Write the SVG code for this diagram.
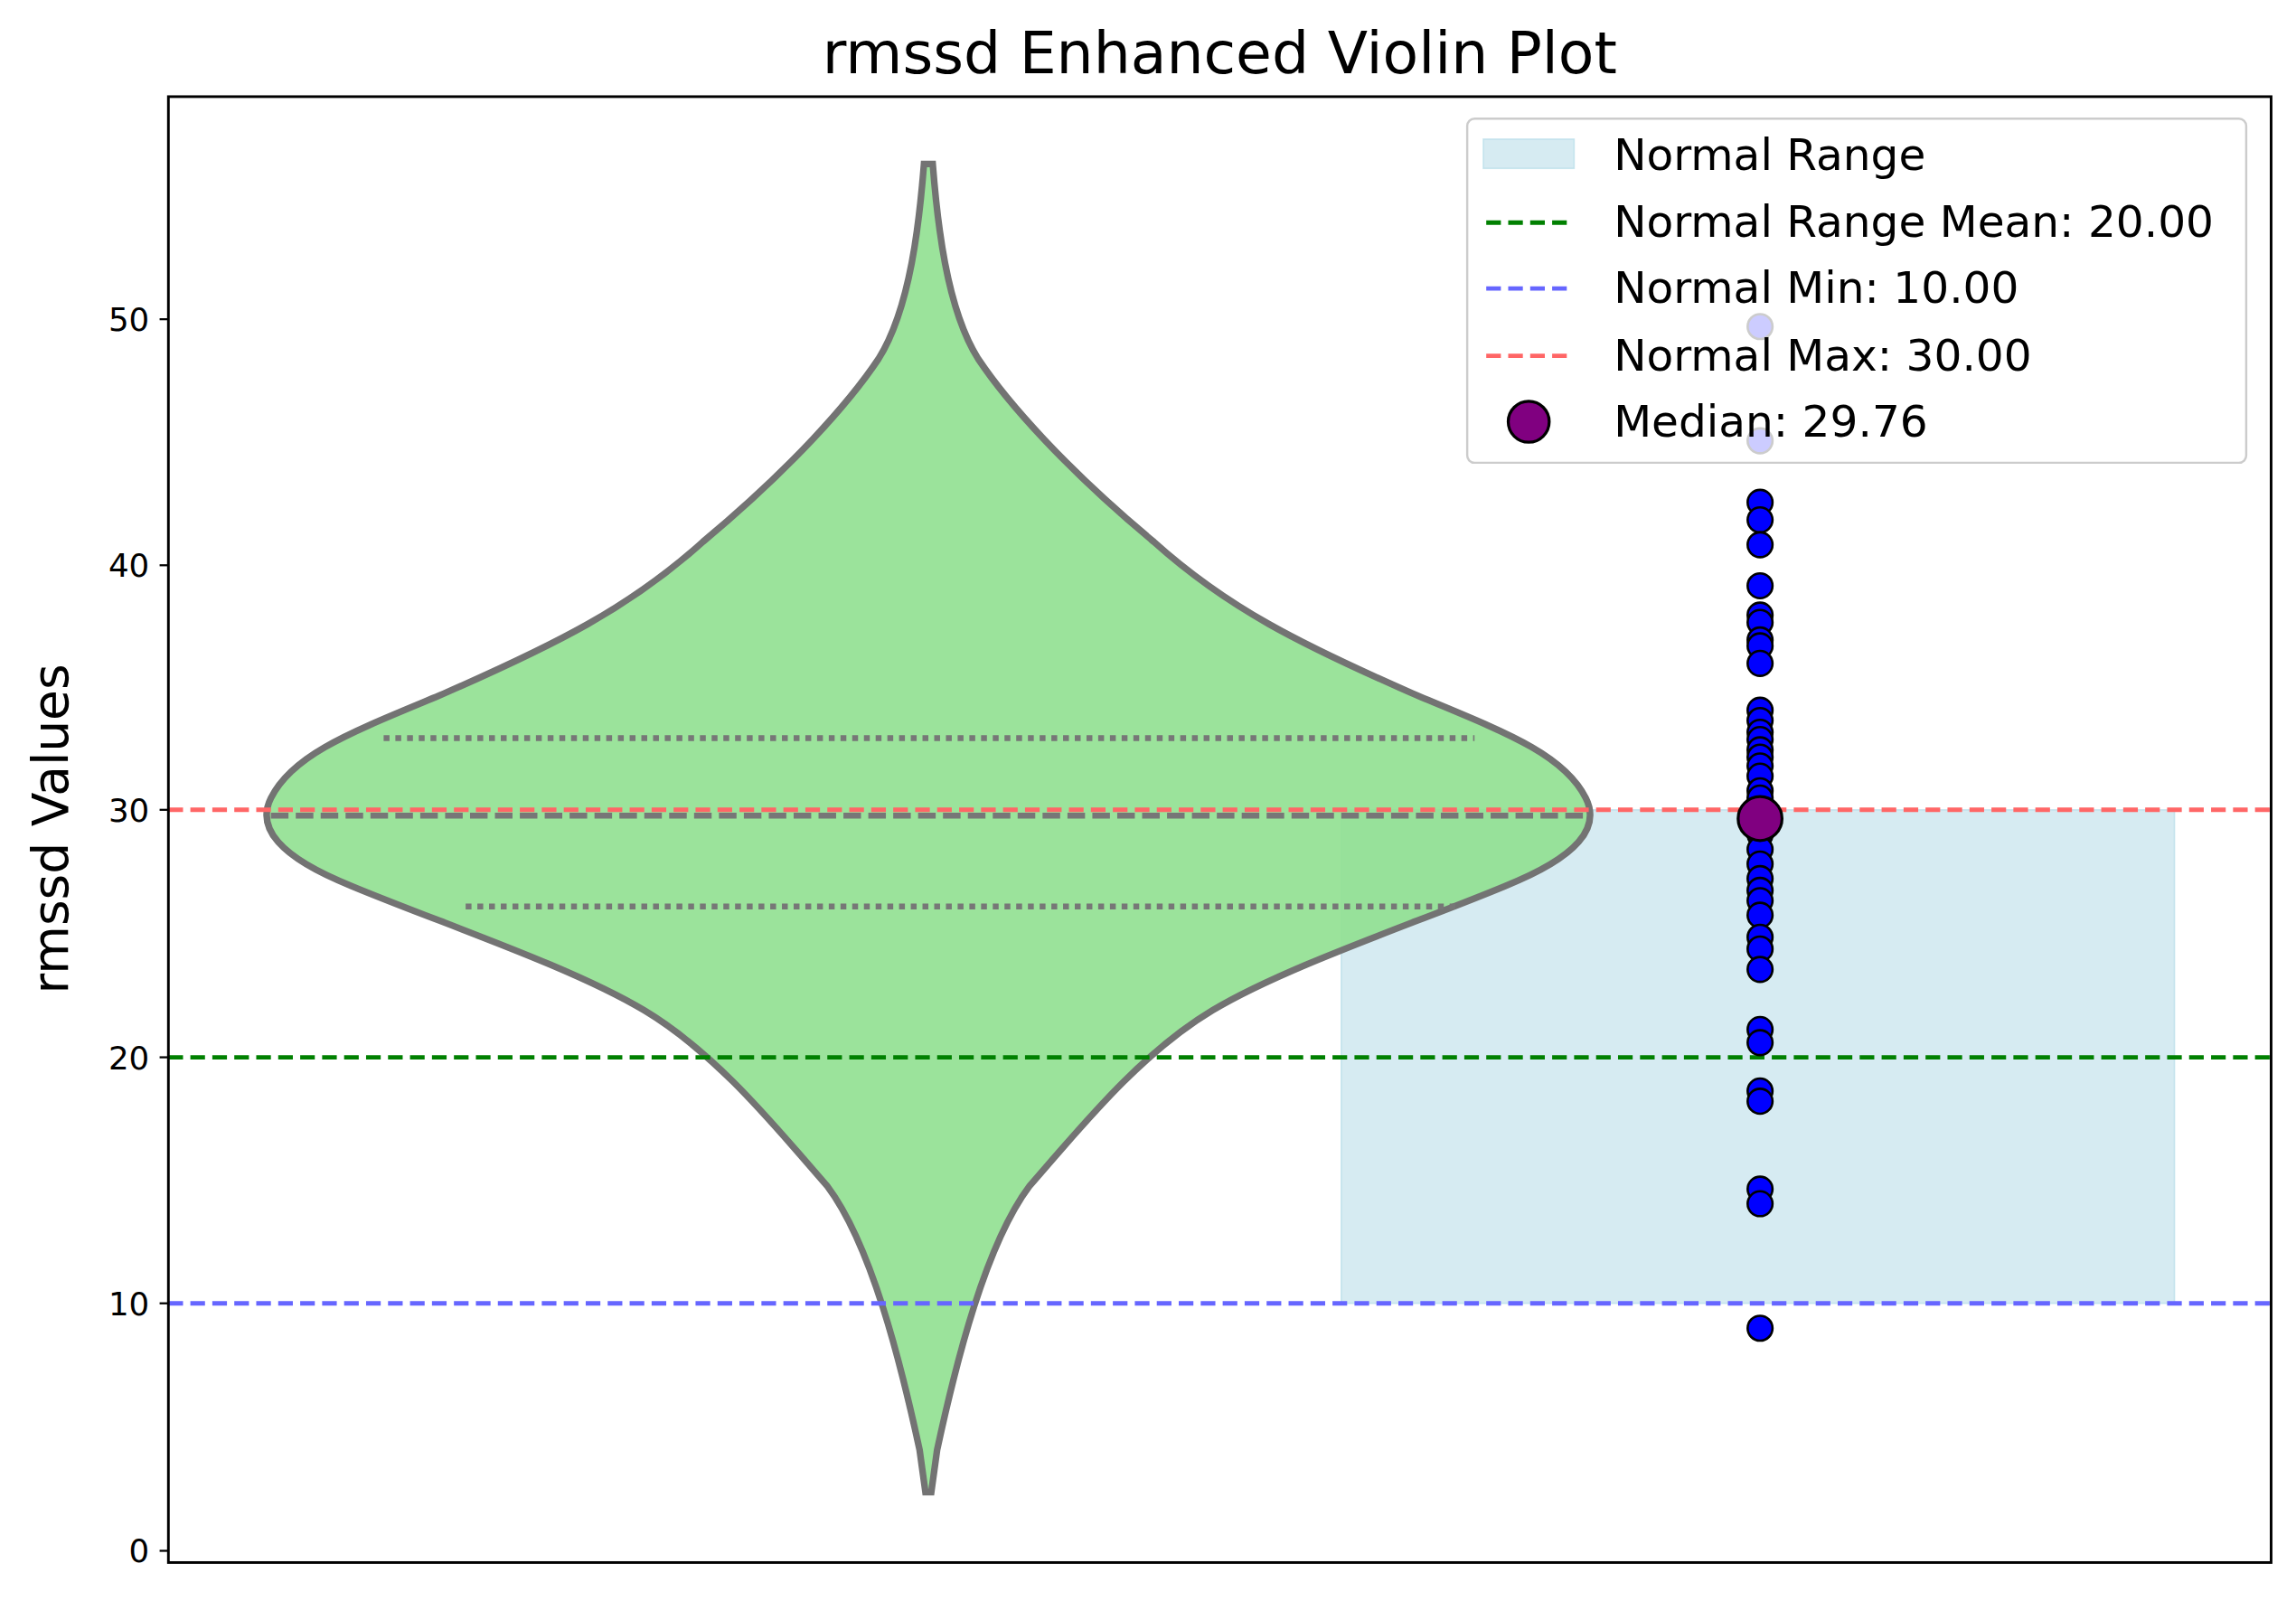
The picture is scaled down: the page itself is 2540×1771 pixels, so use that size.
<svg xmlns="http://www.w3.org/2000/svg" width="2540" height="1771" viewBox="0 0 2540 1771">
<style>
text{font-family:"DejaVu Sans","Liberation Sans",sans-serif;fill:#000}
.t{font-size:22px;text-anchor:end}
.lg{font-size:30px}
.pt{fill:#0000ff;stroke:#000;stroke-width:1.6}
.q{stroke:#777;stroke-width:4;fill:none}
</style>
<rect width="2540" height="1771" fill="#fff"/>
<g transform="scale(1.6199)">
<g id="range"><rect x="916" y="553" width="569" height="337" fill="#add8e6" fill-opacity="0.5" stroke="#add8e6" stroke-opacity="0.6"/></g>
<g id="violin">
<path d="M631,112 C628,150 622,210 600,245 C580,275 540,320 480,370 C430,415 380,440 300,475 C240,500 200,515 185,545 C175,565 190,585 240,605 C300,630 390,660 440,690 C490,720 530,770 565,810 C595,850 615,930 628,990 L632,1019 L636,1019 L640,990 C653,930 673,850 703,810 C738,770 778,720 828,690 C878,660 968,630 1028,605 C1078,585 1093,565 1083,545 C1068,515 1028,500 968,475 C888,440 838,415 788,370 C728,320 688,275 668,245 C646,210 640,150 637,112 Z" fill="#90e090" fill-opacity="0.9" stroke="#737373" stroke-width="4.5"/>
<line class="q" x1="262" y1="504" x2="1007" y2="504" stroke-dasharray="4,4"/>
<line class="q" x1="185" y1="557" x2="1085" y2="557" stroke-dasharray="12,5"/>
<line class="q" x1="318" y1="619" x2="996" y2="619" stroke-dasharray="4,4"/>
</g>
<g id="connectors" stroke-width="3" stroke-dasharray="10,5">
<line x1="115" y1="553" x2="1551" y2="553" stroke="#ff6666"/>
<line x1="115" y1="722" x2="1551" y2="722" stroke="#008000"/>
<line x1="115" y1="890" x2="1551" y2="890" stroke="#6666ff"/>
</g>
<g id="points">
<circle class="pt" cx="1202" cy="223" r="8.5"/><circle class="pt" cx="1202" cy="301" r="8.5"/><circle class="pt" cx="1202" cy="343" r="8.5"/><circle class="pt" cx="1202" cy="355" r="8.5"/><circle class="pt" cx="1202" cy="372" r="8.5"/><circle class="pt" cx="1202" cy="400" r="8.5"/><circle class="pt" cx="1202" cy="420" r="8.5"/><circle class="pt" cx="1202" cy="425" r="8.5"/><circle class="pt" cx="1202" cy="437" r="8.5"/><circle class="pt" cx="1202" cy="441" r="8.5"/><circle class="pt" cx="1202" cy="453" r="8.5"/><circle class="pt" cx="1202" cy="485" r="8.5"/><circle class="pt" cx="1202" cy="492" r="8.5"/><circle class="pt" cx="1202" cy="500" r="8.5"/><circle class="pt" cx="1202" cy="505" r="8.5"/><circle class="pt" cx="1202" cy="512" r="8.5"/><circle class="pt" cx="1202" cy="517" r="8.5"/><circle class="pt" cx="1202" cy="523" r="8.5"/><circle class="pt" cx="1202" cy="530" r="8.5"/><circle class="pt" cx="1202" cy="540" r="8.5"/><circle class="pt" cx="1202" cy="545" r="8.5"/><circle class="pt" cx="1202" cy="570" r="8.5"/><circle class="pt" cx="1202" cy="580" r="8.5"/><circle class="pt" cx="1202" cy="590" r="8.5"/><circle class="pt" cx="1202" cy="600" r="8.5"/><circle class="pt" cx="1202" cy="608" r="8.5"/><circle class="pt" cx="1202" cy="615" r="8.5"/><circle class="pt" cx="1202" cy="625" r="8.5"/><circle class="pt" cx="1202" cy="640" r="8.5"/><circle class="pt" cx="1202" cy="648" r="8.5"/><circle class="pt" cx="1202" cy="662" r="8.5"/><circle class="pt" cx="1202" cy="703" r="8.5"/><circle class="pt" cx="1202" cy="712" r="8.5"/><circle class="pt" cx="1202" cy="745" r="8.5"/><circle class="pt" cx="1202" cy="752" r="8.5"/><circle class="pt" cx="1202" cy="812" r="8.5"/><circle class="pt" cx="1202" cy="822" r="8.5"/><circle class="pt" cx="1202" cy="907" r="8.5"/>
<circle cx="1202" cy="559" r="15" fill="#800080" stroke="#000" stroke-width="2"/>
</g>
<g id="axes">
<rect x="115" y="66" width="1436" height="1001" fill="none" stroke="#000" stroke-width="1.8"/>
<g stroke="#000" stroke-width="1.4"><line x1="109" y1="1059" x2="115" y2="1059"/><line x1="109" y1="890" x2="115" y2="890"/><line x1="109" y1="722" x2="115" y2="722"/><line x1="109" y1="553" x2="115" y2="553"/><line x1="109" y1="386" x2="115" y2="386"/><line x1="109" y1="218" x2="115" y2="218"/></g>
<text class="t" x="102" y="1067">0</text><text class="t" x="102" y="898">10</text><text class="t" x="102" y="730">20</text><text class="t" x="102" y="561">30</text><text class="t" x="102" y="394">40</text><text class="t" x="102" y="226">50</text>
<text x="833" y="50" font-size="40" text-anchor="middle">rmssd Enhanced Violin Plot</text>
<text transform="translate(46,566) rotate(-90)" font-size="34" text-anchor="middle">rmssd Values</text>
</g>
<g id="legend">
<rect x="1002" y="81" width="532" height="235" rx="5" fill="#fff" fill-opacity="0.8" stroke="#ccc" stroke-width="1.5"/>
<rect x="1013" y="95" width="62" height="20" fill="#add8e6" fill-opacity="0.5" stroke="#add8e6" stroke-opacity="0.6"/>
<g stroke-width="3" stroke-dasharray="10,5"><line x1="1015" y1="152" x2="1075" y2="152" stroke="#008000"/><line x1="1015" y1="197" x2="1075" y2="197" stroke="#6666ff"/><line x1="1015" y1="243" x2="1075" y2="243" stroke="#ff6666"/></g>
<circle cx="1044" cy="288" r="14" fill="#800080" stroke="#000" stroke-width="2"/>
<text class="lg" x="1102" y="116">Normal Range</text>
<text class="lg" x="1102" y="162">Normal Range Mean: 20.00</text>
<text class="lg" x="1102" y="207">Normal Min: 10.00</text>
<text class="lg" x="1102" y="253">Normal Max: 30.00</text>
<text class="lg" x="1102" y="298">Median: 29.76</text>
</g>
</g>
</svg>
